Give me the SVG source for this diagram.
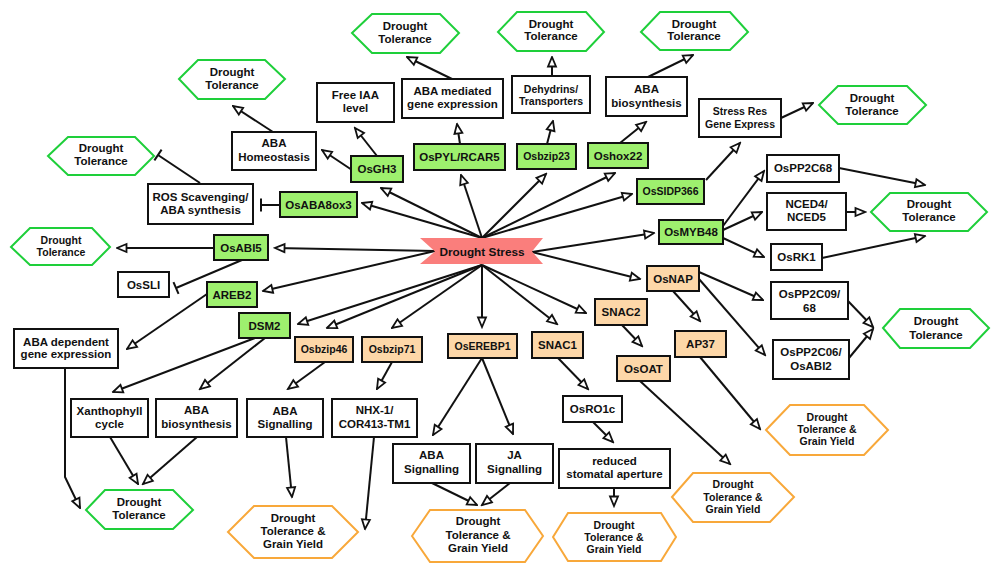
<svg xmlns="http://www.w3.org/2000/svg" width="1000" height="572" viewBox="0 0 1000 572">
<defs>
<style>
text{font-family:"Liberation Sans",Arial,sans-serif;font-weight:bold;font-size:11.5px;fill:#111;text-anchor:middle}
.s{font-size:10.5px}
.box{fill:#fff;stroke:#111;stroke-width:2}
.g{fill:#9EF06E;stroke:#111;stroke-width:2}
.p{fill:#FDD7A8;stroke:#111;stroke-width:2}
.hg{fill:#fff;stroke:#1ECF3A;stroke-width:2}
.ho{fill:#fff;stroke:#F8A83A;stroke-width:2}
.c path,.c line,.c polyline{fill:none;stroke:#111;stroke-width:2}
.a{marker-end:url(#arr)}
.t{marker-end:url(#tee)}
</style>
<marker id="arr" markerUnits="userSpaceOnUse" viewBox="-2 -2 13 12" refX="9.5" refY="4" markerWidth="13" markerHeight="12" orient="auto">
<path d="M0,0 L9.5,4 L0,8 Z" fill="#fff" stroke="#111" stroke-width="1.8"/>
</marker>
<marker id="tee" markerUnits="userSpaceOnUse" viewBox="-3 -8 6 16" refX="0" refY="0" markerWidth="6" markerHeight="16" orient="auto">
<path d="M0,-6.5 L0,6.5" fill="none" stroke="#111" stroke-width="2"/>
</marker>
</defs>
<rect width="1000" height="572" fill="#fff"/>

<g id="connectors" class="c">
<line class="a" x1="482" y1="238" x2="362" y2="203"/>
<line class="a" x1="482" y1="238" x2="381" y2="188"/>
<line class="a" x1="482" y1="238" x2="461" y2="175"/>
<line class="a" x1="482" y1="238" x2="546" y2="174"/>
<line class="a" x1="482" y1="238" x2="615" y2="173"/>
<line class="a" x1="482" y1="238" x2="632" y2="194"/>
<line class="a" x1="435" y1="251" x2="275" y2="248"/>
<line class="a" x1="435" y1="251" x2="263" y2="291"/>
<line class="a" x1="482" y1="265" x2="298" y2="324"/>
<line class="a" x1="482" y1="265" x2="327" y2="328"/>
<line class="a" x1="482" y1="265" x2="392" y2="328"/>
<line class="a" x1="482" y1="265" x2="482" y2="327"/>
<line class="a" x1="482" y1="265" x2="557" y2="324"/>
<line class="a" x1="482" y1="265" x2="586" y2="313"/>
<line class="a" x1="532" y1="252" x2="654" y2="233"/>
<line class="a" x1="532" y1="252" x2="640" y2="279"/>
<line class="a" x1="377" y1="156" x2="355" y2="128"/>
<line class="a" x1="352" y1="170" x2="322" y2="150"/>
<line class="a" x1="460" y1="144" x2="457" y2="124"/>
<line class="a" x1="452" y1="79" x2="407" y2="57"/>
<line class="a" x1="273" y1="132" x2="233" y2="106"/>
<line class="t" x1="200" y1="183" x2="158" y2="155"/>
<line class="t" x1="280" y1="205" x2="261" y2="205"/>
<line class="a" x1="547" y1="144" x2="553" y2="121"/>
<line class="a" x1="552" y1="76" x2="552" y2="57"/>
<line class="a" x1="620" y1="143" x2="646" y2="122"/>
<line class="a" x1="648" y1="77" x2="693" y2="55"/>
<line class="a" x1="706" y1="180" x2="740" y2="143"/>
<line class="a" x1="781" y1="118" x2="813" y2="103"/>
<line class="a" x1="723" y1="226" x2="764" y2="171"/>
<line class="a" x1="839" y1="168" x2="925" y2="185"/>
<line class="a" x1="723" y1="230" x2="762" y2="212"/>
<line class="a" x1="846" y1="212" x2="865" y2="212"/>
<line class="a" x1="723" y1="238" x2="764" y2="257"/>
<line class="a" x1="822" y1="258" x2="925" y2="236"/>
<line class="a" x1="699" y1="272" x2="763" y2="300"/>
<line class="a" x1="699" y1="279" x2="765" y2="355"/>
<line class="a" x1="848" y1="301" x2="873" y2="327"/>
<line class="a" x1="849" y1="358" x2="873" y2="329"/>
<line class="a" x1="673" y1="291" x2="700" y2="321"/>
<line class="a" x1="700" y1="357" x2="760" y2="429"/>
<line class="a" x1="622" y1="325" x2="642" y2="346"/>
<line class="a" x1="640" y1="381" x2="730" y2="464"/>
<line class="a" x1="558" y1="358" x2="588" y2="389"/>
<line class="a" x1="593" y1="422" x2="613" y2="442"/>
<line class="a" x1="614" y1="488" x2="614" y2="506"/>
<line class="a" x1="214" y1="248" x2="117" y2="248"/>
<line class="t" x1="242" y1="260" x2="176" y2="288"/>
<line class="a" x1="207" y1="294" x2="127" y2="349"/>
<polyline class="a" points="65,368 65,477 80,508"/>
<line class="a" x1="255" y1="338" x2="113" y2="392"/>
<line class="a" x1="265" y1="338" x2="200" y2="389"/>
<line class="a" x1="110" y1="437" x2="138" y2="484"/>
<line class="a" x1="197" y1="437" x2="143" y2="484"/>
<line class="a" x1="325" y1="362" x2="288" y2="389"/>
<line class="a" x1="392" y1="362" x2="377" y2="389"/>
<line class="a" x1="286" y1="437" x2="292" y2="497"/>
<line class="a" x1="374" y1="437" x2="365" y2="529"/>
<line class="a" x1="482" y1="358" x2="433" y2="435"/>
<line class="a" x1="482" y1="358" x2="513" y2="434"/>
<line class="a" x1="432" y1="483" x2="477" y2="505"/>
<line class="a" x1="510" y1="483" x2="482" y2="505"/>
</g>

<g id="drought-stress">
<polygon points="420,238 543,238 532,251.5 543,264 420,264 435,251.5" fill="#FA7E7C"/>
<text x="482" y="255.5" style="font-size:11.8px">Drought Stress</text>
</g>

<g id="dt1"><polygon class="hg" points="179,79 198,60 265,60 285,79 265,99 198,99"/><text x="232" y="76">Drought</text><text x="232" y="89">Tolerance</text></g>
<g id="dt2"><polygon class="hg" points="352,33 372,14 440,14 459,33 440,53 372,53"/><text x="405" y="30">Drought</text><text x="405" y="43">Tolerance</text></g>
<g id="dt3"><polygon class="hg" points="498,32 517,12 586,12 604,32 586,51 517,51"/><text x="551" y="28">Drought</text><text x="551" y="40">Tolerance</text></g>
<g id="dt4"><polygon class="hg" points="641,32 660,12 730,12 748,32 730,50 660,50"/><text x="694" y="28">Drought</text><text x="694" y="40">Tolerance</text></g>
<g id="dt5"><polygon class="hg" points="819,105 838,86 907,86 926,105 907,124 838,124"/><text x="872" y="102">Drought</text><text x="872" y="115">Tolerance</text></g>
<g id="dt6"><polygon class="hg" points="48,156 68,137 135,137 154,156 135,175 68,175"/><text x="101" y="152">Drought</text><text x="101" y="165">Tolerance</text></g>
<g id="dt7"><polygon class="hg" points="11,247 30,228 92,228 110,247 92,265 30,265"/><text class="s" x="61" y="244">Drought</text><text class="s" x="61" y="256">Tolerance</text></g>
<g id="dt8"><polygon class="hg" points="871,212 890,193 968,193 987,212 968,231 890,231"/><text x="929" y="208">Drought</text><text x="929" y="221">Tolerance</text></g>
<g id="dt9"><polygon class="hg" points="883,328 900,309 970,309 989,328 970,348 900,348"/><text x="936" y="325">Drought</text><text x="936" y="339">Tolerance</text></g>
<g id="dt10"><polygon class="hg" points="86,510 105,490 173,490 193,510 173,529 105,529"/><text x="139" y="506">Drought</text><text x="139" y="519">Tolerance</text></g>

<g id="dy1"><polygon class="ho" points="228,532 254,506 332,506 358,532 332,558 254,558"/><text x="293" y="522">Drought</text><text x="293" y="535">Tolerance &amp;</text><text x="293" y="548">Grain Yield</text></g>
<g id="dy2"><polygon class="ho" points="412,536 430,510 525,510 543,536 525,562 430,562"/><text x="478" y="525">Drought</text><text x="478" y="539">Tolerance &amp;</text><text x="478" y="552">Grain Yield</text></g>
<g id="dy3"><polygon class="ho" points="553,537 568,513 661,513 676,537 661,561 568,561"/><text class="s" x="614" y="529">Drought</text><text class="s" x="614" y="541">Tolerance &amp;</text><text class="s" x="614" y="553">Grain Yield</text></g>
<g id="dy4"><polygon class="ho" points="672,497 693,473 770,473 794,497 770,522 693,522"/><text class="s" x="733" y="488">Drought</text><text class="s" x="733" y="501">Tolerance &amp;</text><text class="s" x="733" y="513">Grain Yield</text></g>
<g id="dy5"><polygon class="ho" points="766,430 790,405 864,405 888,430 864,455 790,455"/><text class="s" x="827" y="421">Drought</text><text class="s" x="827" y="433">Tolerance &amp;</text><text class="s" x="827" y="445">Grain Yield</text></g>

<g id="free-iaa"><rect class="box" x="317" y="83" width="77" height="39"/><text x="355.5" y="99">Free IAA</text><text x="355.5" y="112">level</text></g>
<g id="aba-mediated"><rect class="box" x="402" y="79" width="101" height="39"/><text x="452.5" y="95">ABA mediated</text><text x="452.5" y="108">gene expression</text></g>
<g id="aba-homeostasis"><rect class="box" x="232" y="132" width="84" height="38"/><text x="274" y="147">ABA</text><text x="274" y="161">Homeostasis</text></g>
<g id="dehydrins"><rect class="box" x="512" y="76" width="78" height="37"/><text class="s" x="551" y="93">Dehydrins/</text><text class="s" x="551" y="105">Transporters</text></g>
<g id="aba-bio1"><rect class="box" x="606" y="77" width="81" height="39"/><text x="646.5" y="93">ABA</text><text x="646.5" y="107">biosynthesis</text></g>
<g id="stress-res"><rect class="box" x="699" y="99" width="82" height="38"/><text class="s" x="740" y="115">Stress Res</text><text class="s" x="740" y="128">Gene Express</text></g>
<g id="ros"><rect class="box" x="148" y="184" width="105" height="40"/><text x="200.5" y="201">ROS Scavenging/</text><text x="200.5" y="214">ABA synthesis</text></g>
<g id="ospp2c68"><rect class="box" x="767" y="155" width="72" height="27"/><text x="803" y="172">OsPP2C68</text></g>
<g id="nced"><rect class="box" x="767" y="193" width="79" height="37"/><text x="806.5" y="208">NCED4/</text><text x="806.5" y="221">NCED5</text></g>
<g id="osrk1"><rect class="box" x="771" y="244" width="51" height="26"/><text x="796.5" y="261">OsRK1</text></g>
<g id="ospp2c09"><rect class="box" x="771" y="282" width="77" height="37"/><text x="809.5" y="298">OsPP2C09/</text><text x="809.5" y="312">68</text></g>
<g id="ospp2c06"><rect class="box" x="773" y="340" width="76" height="39"/><text x="811" y="356">OsPP2C06/</text><text x="811" y="370">OsABI2</text></g>
<g id="ossli"><rect class="box" x="118" y="272" width="51" height="25"/><text x="143.5" y="289">OsSLI</text></g>
<g id="aba-dependent"><rect class="box" x="14" y="329" width="104" height="39"/><text x="66" y="346">ABA dependent</text><text x="66" y="358">gene expression</text></g>
<g id="xanthophyll"><rect class="box" x="71" y="399" width="77" height="38"/><text x="109.5" y="415">Xanthophyll</text><text x="109.5" y="428">cycle</text></g>
<g id="aba-bio2"><rect class="box" x="156" y="399" width="81" height="38"/><text x="196.5" y="414">ABA</text><text x="196.5" y="428">biosynthesis</text></g>
<g id="aba-sig1"><rect class="box" x="247" y="399" width="76" height="38"/><text x="285" y="415">ABA</text><text x="285" y="428">Signalling</text></g>
<g id="nhx"><rect class="box" x="332" y="399" width="85" height="38"/><text x="374.5" y="414">NHX-1/</text><text x="374.5" y="428">COR413-TM1</text></g>
<g id="aba-sig2"><rect class="box" x="393" y="444" width="77" height="39"/><text x="431.5" y="459">ABA</text><text x="431.5" y="473">Signalling</text></g>
<g id="ja-sig"><rect class="box" x="476" y="444" width="77" height="39"/><text x="514.5" y="459">JA</text><text x="514.5" y="473">Signalling</text></g>
<g id="osro1c"><rect class="box" x="563" y="396" width="59" height="26"/><text x="592.5" y="413">OsRO1c</text></g>
<g id="reduced"><rect class="box" x="559" y="449" width="111" height="39"/><text x="614.5" y="465">reduced</text><text x="614.5" y="478">stomatal aperture</text></g>

<g id="osgh3"><rect class="g" x="351" y="156" width="52" height="26"/><text x="377" y="173">OsGH3</text></g>
<g id="ospyl"><rect class="g" x="414" y="144" width="91" height="26"/><text x="459.5" y="161">OsPYL/RCAR5</text></g>
<g id="osbzip23"><rect class="g" x="517" y="144" width="59" height="25"/><text class="s" x="546.5" y="160">Osbzip23</text></g>
<g id="oshox22"><rect class="g" x="588" y="143" width="60" height="25"/><text x="618" y="159.5">Oshox22</text></g>
<g id="ossidp366"><rect class="g" x="637" y="179" width="67" height="25"/><text class="s" x="670.5" y="195">OsSIDP366</text></g>
<g id="osaba8ox3"><rect class="g" x="280" y="192" width="77" height="25"/><text x="318.5" y="209">OsABA8ox3</text></g>
<g id="osabi5"><rect class="g" x="214" y="235" width="54" height="25"/><text x="241" y="251.5">OsABI5</text></g>
<g id="areb2"><rect class="g" x="207" y="282" width="50" height="25"/><text x="232" y="298.5">AREB2</text></g>
<g id="dsm2"><rect class="g" x="239" y="313" width="51" height="25"/><text x="264.5" y="329.5">DSM2</text></g>
<g id="osmyb48"><rect class="g" x="659" y="220" width="64" height="24"/><text x="691" y="236">OsMYB48</text></g>

<g id="osnap"><rect class="p" x="647" y="266" width="52" height="25"/><text x="673" y="282.5">OsNAP</text></g>
<g id="snac2"><rect class="p" x="595" y="299" width="52" height="26"/><text x="621" y="316">SNAC2</text></g>
<g id="snac1"><rect class="p" x="532" y="332" width="51" height="26"/><text x="557.5" y="349">SNAC1</text></g>
<g id="ap37"><rect class="p" x="675" y="331" width="51" height="26"/><text x="700.5" y="348">AP37</text></g>
<g id="osoat"><rect class="p" x="617" y="356" width="53" height="25"/><text x="643.5" y="372.5">OsOAT</text></g>
<g id="osbzip46"><rect class="p" x="295" y="337" width="58" height="25"/><text class="s" x="324" y="353">Osbzip46</text></g>
<g id="osbzip71"><rect class="p" x="362" y="337" width="60" height="25"/><text class="s" x="392" y="353">Osbzip71</text></g>
<g id="oserebp1"><rect class="p" x="448" y="334" width="69" height="24"/><text class="s" x="482.5" y="350">OsEREBP1</text></g>
</svg>
